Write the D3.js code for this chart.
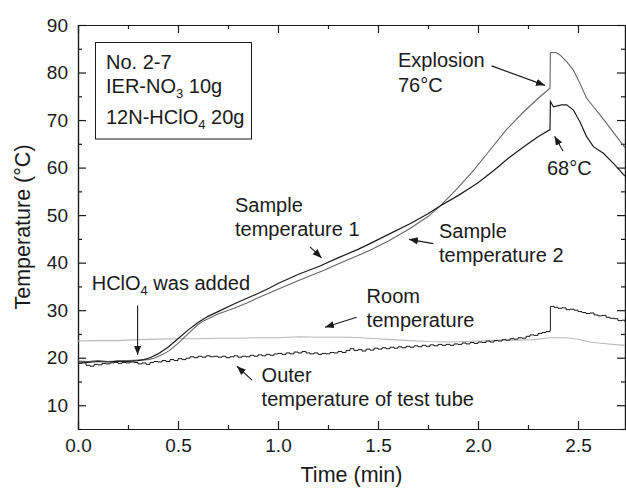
<!DOCTYPE html>
<html lang="en">
<head>
<meta charset="UTF-8">
<script src="https://d3js.org/d3.v7.min.js"></script>
<title>Temperature vs time</title>
<style>
  body{ margin:0; background:#fff; }
  svg{ display:block; font-family:"Liberation Sans", Arial, sans-serif; }
  .axis text{ font-size:19px; fill:#1a1a1a; }
  .axis path, .axis line{ stroke:#1a1a1a; stroke-width:1.2; }
  .lbl{ font-size:20px; fill:#1a1a1a; }
  .title{ font-size:21.5px; fill:#1a1a1a; }
</style>
</head>
<body>
<svg width="626" height="488"></svg>
<script>
// ---- data: [time (min), temperature (°C)]
let sample1 = [[0,19.1],[0.05,19.0],[0.1,19.2],[0.15,19.1],[0.2,19.3],[0.25,19.2],[0.3,19.4],[0.33,19.6],
  [0.36,20.0],[0.4,20.8],[0.45,22.2],[0.5,24.0],[0.55,25.8],[0.6,27.4],[0.65,28.7],[0.7,29.7],[0.78,31.3],
  [0.85,32.6],[0.9,33.5],[0.96,34.7],[1.0,35.6],[1.1,37.5],[1.21,39.3],[1.3,41.0],[1.4,42.8],[1.46,44.0],
  [1.55,45.9],[1.66,48.2],[1.75,50.3],[1.81,51.9],[1.9,54.1],[1.96,55.7],[2.0,56.8],[2.085,59.6],[2.15,61.9],
  [2.2,63.5],[2.25,65.0],[2.3,66.5],[2.36,68.0],[2.362,73.9],[2.377,72.8],[2.418,73.2],[2.443,73.2],
  [2.477,72.1],[2.51,69.6],[2.543,66.5],[2.577,64.4],[2.627,63.0],[2.677,60.9],[2.735,58.2]]

let sample2 = [[0,19.3],[0.05,19.2],[0.1,19.4],[0.15,19.2],[0.2,19.3],[0.25,19.4],[0.3,19.5],[0.35,19.6],
  [0.38,19.9],[0.42,20.6],[0.46,21.6],[0.5,23.0],[0.55,25.0],[0.6,27.0],[0.63,27.8],[0.7,29.2],[0.78,30.4],
  [0.85,31.6],[0.9,32.6],[1.0,34.4],[1.1,36.2],[1.23,38.4],[1.3,39.7],[1.4,41.5],[1.46,42.6],[1.55,44.5],
  [1.66,47.2],[1.75,49.7],[1.81,51.9],[1.89,55.3],[1.98,59.5],[2.06,63.7],[2.14,67.9],[2.23,71.8],[2.31,74.9],
  [2.36,76.7],[2.362,84.2],[2.39,84.2],[2.41,83.7],[2.443,82.3],[2.477,80.5],[2.51,77.7],[2.543,74.6],
  [2.577,72.8],[2.61,71.1],[2.643,69.3],[2.693,66.5],[2.735,64.2]]

let room = [[0,23.5],[0.1,23.6],[0.2,23.6],[0.3,23.8],[0.4,23.9],[0.5,24.0],[0.6,24.0],[0.7,24.1],[0.8,24.1],
  [0.9,24.2],[1.0,24.2],[1.11,24.4],[1.2,24.3],[1.36,24.3],[1.5,24.0],[1.61,23.7],[1.75,23.4],[1.86,23.3],
  [2.0,23.5],[2.11,23.7],[2.2,23.7],[2.28,23.8],[2.36,24.2],[2.44,24.2],[2.5,23.9],[2.56,23.3],[2.65,22.9],[2.735,22.6]]

let outer = [[0,18.8],[0.02,18.9],[0.04,18.4],[0.06,18.2],[0.08,18.6],[0.1,18.5],[0.12,18.8],[0.14,18.7],[0.16,18.9],
  [0.18,19.0],[0.2,18.8],[0.22,19.0],[0.24,18.9],[0.26,19.1],[0.28,19.0],[0.3,18.7],[0.32,18.9],[0.34,18.6],
  [0.36,19.0],[0.38,19.2],[0.4,19.1],[0.42,19.4],[0.44,19.2],[0.46,19.6],[0.48,19.4],[0.5,19.8],[0.52,19.6],
  [0.54,19.9],[0.56,20.2],[0.58,20.0],[0.6,20.3],[0.62,20.1],[0.64,20.4],[0.66,20.2],[0.68,20.3],[0.7,20.1],
  [0.72,20.3],[0.74,20.0],[0.76,20.2],[0.78,20.4],[0.8,20.1],[0.82,20.3],[0.84,20.2],[0.86,20.5],[0.88,20.3],
  [0.9,20.6],[0.92,20.4],[0.94,20.7],[0.96,20.5],[0.98,20.8],[1.0,20.9],[1.02,20.7],[1.04,21.0],[1.06,20.8],
  [1.08,21.2],[1.1,21.0],[1.12,21.3],[1.14,21.0],[1.16,20.8],[1.18,21.0],[1.2,20.7],[1.22,20.9],[1.24,20.8],
  [1.26,21.1],[1.28,21.0],[1.3,21.3],[1.32,21.1],[1.34,21.5],[1.36,21.9],[1.38,21.5],[1.4,21.7],[1.42,21.4],
  [1.44,21.8],[1.46,21.6],[1.48,22.0],[1.5,21.8],[1.52,22.1],[1.54,21.9],[1.56,22.2],[1.58,22.0],[1.6,22.3],
  [1.62,22.1],[1.64,22.4],[1.66,22.2],[1.68,22.5],[1.7,22.3],[1.72,22.6],[1.74,22.4],[1.76,22.7],[1.78,22.5],
  [1.8,22.8],[1.82,22.6],[1.84,22.8],[1.86,22.6],[1.88,22.9],[1.9,22.8],[1.92,23.1],[1.94,22.9],[1.96,23.2],
  [1.98,23.0],[2.0,23.3],[2.02,23.2],[2.04,23.5],[2.06,23.3],[2.08,23.6],[2.1,23.5],[2.12,23.8],[2.14,23.7],
  [2.16,24.0],[2.18,23.9],[2.2,24.2],[2.22,24.1],[2.24,24.5],[2.26,24.8],[2.28,24.7],[2.3,25.1],[2.32,25.3],
  [2.34,25.5],[2.36,25.8],[2.362,30.8],[2.38,30.6],[2.4,30.4],[2.42,30.5],[2.44,30.1],[2.46,30.2],[2.48,30.0],
  [2.5,29.7],[2.52,29.5],[2.54,29.3],[2.56,29.4],[2.58,29.0],[2.6,28.8],[2.62,28.9],[2.64,28.5],[2.66,28.3],
  [2.68,28.2],[2.7,27.8],[2.72,27.9],[2.735,27.5]]

let xTicks = [0, 0.5, 1.0, 1.5, 2.0, 2.5]
let xMinor = [0.25, 0.75, 1.25, 1.75, 2.25]
let yTicks = [10, 20, 30, 40, 50, 60, 70, 80, 90]
let yMinor = [5, 15, 25, 35, 45, 55, 65, 75, 85]

// annotations in data units: text lines at (t, T), arrows from -> to
let notes = [
  {lines: ["Explosion", "76°C"], t: 1.6, T: [81.2, 75.8]},
  {lines: ["68°C"], t: 2.345, T: [58.4]},
  {lines: ["Sample", "temperature 1"], t: 0.785, T: [50.6, 45.7]},
  {lines: ["Sample", "temperature 2"], t: 1.805, T: [45.2, 40.2]},
  {lines: ["Room", "temperature"], t: 1.443, T: [31.5, 26.5]},
  {lines: ["Outer", "temperature of test tube"], t: 0.918, T: [14.9, 9.8]}
]
let arrows = [
  [[2.068, 81.4], [2.335, 77.3]],
  [[2.425, 63.5], [2.383, 66.6]],
  [[1.16, 43.3], [1.218, 41.0]],
  [[1.777, 44.0], [1.655, 44.9]],
  [[1.393, 28.5], [1.235, 26.4]],
  [[0.298, 31.0], [0.298, 20.6]],
  [[0.87, 15.3], [0.795, 18.2]]
]

let svg = d3.select("svg")
let mLeft = 78, mRight = 625, mTop = 25, mBottom = 429

let x = d3.scaleLinear().domain([0, 2.735]).range([mLeft, mRight])
let y = d3.scaleLinear().domain([5, 90]).range([mBottom, mTop])

// arrow head
svg.append("defs").append("marker")
  .attr("id", "head").attr("viewBox", "0 0 10 10")
  .attr("refX", 10).attr("refY", 5)
  .attr("markerWidth", 9).attr("markerHeight", 9)
  .attr("markerUnits", "userSpaceOnUse")
  .attr("orient", "auto")
  .append("path").attr("d", "M0,1 L10,5 L0,9 Z").attr("fill", "#1a1a1a")

// axes, ticks pointing inward
function axis(gen, tr, vals, size, fmt) {
  let a = gen.tickValues(vals).tickSizeInner(-size).tickSizeOuter(0)
  if (fmt) a.tickFormat(fmt).tickPadding(10); else a.tickFormat("")
  return svg.append("g").attr("class", "axis").attr("transform", tr).call(a)
}
axis(d3.axisBottom(x), `translate(0,${mBottom})`, xTicks, 8, d3.format(".1f"))
axis(d3.axisBottom(x), `translate(0,${mBottom})`, xMinor, 4)
axis(d3.axisTop(x), `translate(0,${mTop})`, xTicks, 8)
axis(d3.axisTop(x), `translate(0,${mTop})`, xMinor, 4)
axis(d3.axisLeft(y), `translate(${mLeft},0)`, yTicks, 8, d3.format("d"))
axis(d3.axisLeft(y), `translate(${mLeft},0)`, yMinor, 4)
axis(d3.axisRight(y), `translate(${mRight},0)`, yTicks, 8)
axis(d3.axisRight(y), `translate(${mRight},0)`, yMinor, 4)
svg.selectAll(".axis").attr("font-family", null).attr("font-size", null)

// axis titles
svg.append("text").attr("class", "title")
  .attr("x", (mLeft + mRight) / 2).attr("y", 482).attr("text-anchor", "middle")
  .text("Time (min)")
svg.append("text").attr("class", "title")
  .attr("transform", `translate(30,${(mTop + mBottom) / 2}) rotate(-90)`)
  .attr("text-anchor", "middle").text("Temperature (°C)")

// curves
let line = d3.line().x(d => x(d[0])).y(d => y(d[1]))
let stepLine = d3.line().x(d => x(d[0])).y(d => y(d[1])).curve(d3.curveStepAfter)
svg.append("path").datum(room).attr("d", line)
  .attr("fill", "none").attr("stroke", "#b8b8b8").attr("stroke-width", 1.1)
svg.append("path").datum(outer).attr("d", stepLine)
  .attr("fill", "none").attr("stroke", "#1a1a1a").attr("stroke-width", 1)
svg.append("path").datum(sample2).attr("d", line)
  .attr("fill", "none").attr("stroke", "#666").attr("stroke-width", 1.1)
svg.append("path").datum(sample1).attr("d", line)
  .attr("fill", "none").attr("stroke", "#1a1a1a").attr("stroke-width", 1.2)

// legend box
svg.append("rect").attr("x", 95.5).attr("y", 42.5).attr("width", 156).attr("height", 96.5)
  .attr("fill", "#fff").attr("stroke", "#1a1a1a").attr("stroke-width", 1)
let info = svg.append("g")
info.append("text").attr("class", "lbl").attr("x", 106).attr("y", 69).text("No. 2-7")
let t2 = info.append("text").attr("class", "lbl").attr("x", 106).attr("y", 93)
t2.append("tspan").text("IER-NO")
t2.append("tspan").attr("font-size", "13px").attr("dy", 5).text("3")
t2.append("tspan").attr("dy", -5).text(" 10g")
let t3 = info.append("text").attr("class", "lbl").attr("x", 106).attr("y", 124)
t3.append("tspan").text("12N-HClO")
t3.append("tspan").attr("font-size", "13px").attr("dy", 5).text("4")
t3.append("tspan").attr("dy", -5).text(" 20g")

// annotation texts
notes.forEach(n => {
  n.lines.forEach((s, i) => {
    svg.append("text").attr("class", "lbl")
      .attr("x", x(n.t)).attr("y", y(n.T[i])).text(s)
  })
})
let hc = svg.append("text").attr("class", "lbl").attr("x", x(0.0685)).attr("y", y(34.2))
hc.append("tspan").text("HClO")
hc.append("tspan").attr("font-size", "13px").attr("dy", 5).text("4")
hc.append("tspan").attr("dy", -5).text(" was added")

// arrows
arrows.forEach(a => {
  svg.append("line")
    .attr("x1", x(a[0][0])).attr("y1", y(a[0][1]))
    .attr("x2", x(a[1][0])).attr("y2", y(a[1][1]))
    .attr("stroke", "#1a1a1a").attr("stroke-width", 1.1)
    .attr("marker-end", "url(#head)")
})
</script>
</body>
</html>
